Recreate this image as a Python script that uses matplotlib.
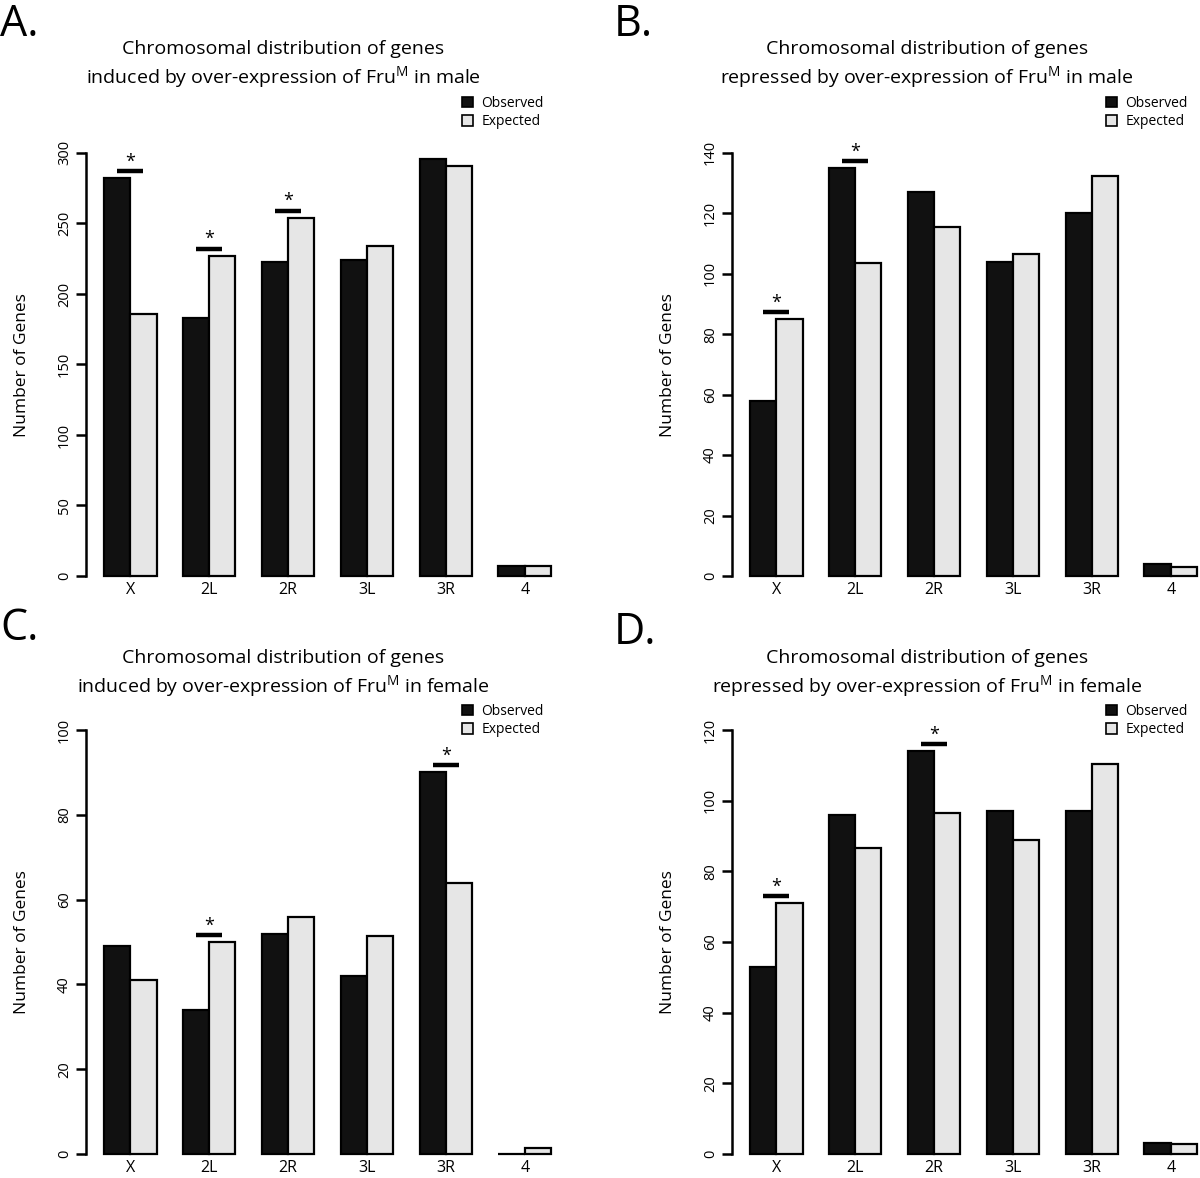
import matplotlib.pyplot as plt
from matplotlib.patches import Patch

plt.rcParams['font.family'] = ['Open Sans', 'DejaVu Sans']
plt.rcParams['mathtext.fontset'] = 'custom'
plt.rcParams['mathtext.rm'] = 'Open Sans'

chroms = ['X', '2L', '2R', '3L', '3R', '4']

# A: induced in male
obs_a = [282, 183, 223, 224, 296, 7]
exp_a = [186, 227, 254, 234, 291, 7]
sig_a = ['X', '2L', '2R']

# B: repressed in male
obs_b = [58, 135, 127, 104, 120, 4]
exp_b = [85, 103.5, 115.5, 106.5, 132.5, 3]
sig_b = ['X', '2L']

# C: induced in female
obs_c = [49, 34, 52, 42, 90, 0]
exp_c = [41, 50, 55.8, 51.3, 63.8, 1.5]
sig_c = ['2L', '3R']

# D: repressed in female
obs_d = [53, 96, 114, 97, 97, 3]
exp_d = [71, 86.5, 96.5, 89, 110.5, 2.8]
sig_d = ['X', '2R']

W, H = 1200, 1178
fig = plt.figure(figsize=(12, 11.78), dpi=100)


def box(l, t, r, b):
    # pixel box -> figure fraction
    return [l / W, 1 - b / H, (r - l) / W, (b - t) / H]


def panel(pos, obs, exp, top, step, sig):
    ax = fig.add_axes(box(*pos))
    x0 = [1 + 3 * i for i in range(len(chroms))]
    ax.bar([x + 0.5 for x in x0], obs, width=1, color='#111111',
           edgecolor='black', linewidth=1.6, clip_on=False)
    ax.bar([x + 1.5 for x in x0], exp, width=1, color='#e6e6e6',
           edgecolor='black', linewidth=1.6, clip_on=False)
    ax.set_xlim(0.32, 18.68)
    ax.set_ylim(0, 1.04 * top)
    for s in ['top', 'right', 'bottom']:
        ax.spines[s].set_visible(False)
    ax.spines['left'].set_bounds(0, top)
    ax.spines['left'].set_linewidth(1.8)
    ax.set_yticks(range(0, top + 1, step))
    ax.tick_params(axis='y', length=7, width=1.8, labelsize=10.5, pad=3)
    for t in ax.get_yticklabels():
        t.set_rotation(90)
        t.set_va('center')
    ax.set_xticks([x + 1 for x in x0])
    ax.set_xticklabels(chroms, fontsize=11.5)
    ax.tick_params(axis='x', length=0, pad=4)
    ax.set_ylabel('Number of Genes', fontsize=12.5)
    ax.yaxis.set_label_coords(-0.115, 0.48)
    off = 0.017 * top
    for c in sig:
        i = chroms.index(c)
        y = max(obs[i], exp[i]) + off
        ax.plot([x0[i] + 0.5, x0[i] + 1.5], [y, y], color='black',
                linewidth=3.2, solid_capstyle='butt', clip_on=False)
        ax.text(x0[i] + 1, y + 0.001 * top, '*', ha='center', va='bottom',
                fontsize=13)
    return ax


def title(cx, ty, what):
    fig.text(cx / W, 1 - ty / H,
             'Chromosomal distribution of genes\n' + what,
             fontsize=14, ha='center', va='top', linespacing=1.3)


def letter(x, y, s):
    fig.text(x / W, 1 - y / H, s, fontsize=31, ha='left', va='top')


def legend(ax, lx, ly):
    h = [Patch(facecolor='#111111', edgecolor='black', linewidth=1.2),
         Patch(facecolor='#e6e6e6', edgecolor='black', linewidth=1.2)]
    ax.legend(h, ['Observed', 'Expected'], loc='upper left',
              bbox_to_anchor=(lx / W, 1 - ly / H), bbox_transform=fig.transFigure,
              frameon=False, fontsize=10, handlelength=0.8, handleheight=0.8,
              handletextpad=0.6, labelspacing=0.25, borderaxespad=0, borderpad=0)


ax_a = panel((86, 136, 569, 576), obs_a, exp_a, 300, 50, sig_a)
ax_b = panel((732, 136, 1215, 576), obs_b, exp_b, 140, 20, sig_b)
ax_c = panel((86, 713, 569, 1154), obs_c, exp_c, 100, 20, sig_c)
ax_d = panel((732, 713, 1215, 1154), obs_d, exp_d, 120, 20, sig_d)

letter(0, 3, 'A.')
letter(614, 3, 'B.')
letter(0, 606, 'C.')
letter(614, 610, 'D.')

title(283, 40, 'induced by over-expression of Fru$^{\\mathrm{M}}$ in male')
title(927, 40, 'repressed by over-expression of Fru$^{\\mathrm{M}}$ in male')
title(283, 649, 'induced by over-expression of Fru$^{\\mathrm{M}}$ in female')
title(927, 649, 'repressed by over-expression of Fru$^{\\mathrm{M}}$ in female')

legend(ax_a, 462, 96)
legend(ax_b, 1106, 96)
legend(ax_c, 462, 704)
legend(ax_d, 1106, 704)

fig.savefig('out.png', dpi=100)
